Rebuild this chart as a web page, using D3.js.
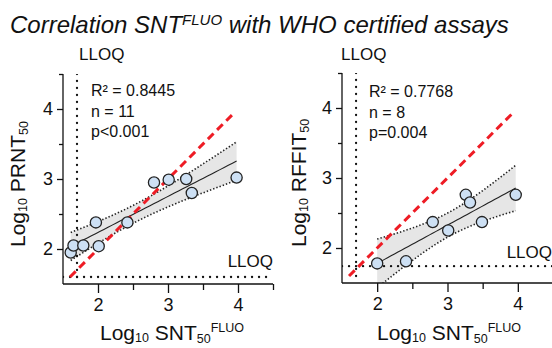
<!DOCTYPE html>
<html>
<head>
<meta charset="utf-8">
<script src="https://cdn.jsdelivr.net/npm/d3@7"></script>
<style>
  body { margin: 0; background: #fff; }
  svg { display: block; font-family: "Liberation Sans", Arial, sans-serif; }
</style>
</head>
<body>
<svg id="chart" width="552" height="348"></svg>
<script>
// data (log10 titres)
var prntX = [1.61, 1.65, 1.79, 2.01, 1.97, 2.42, 2.80, 3.01, 3.26, 3.34, 3.98];
var prntY = [1.95, 2.05, 2.05, 2.04, 2.38, 2.38, 2.95, 2.99, 3.00, 2.80, 3.02];
var rffitX = [2.00, 2.41, 2.79, 3.01, 3.26, 3.32, 3.49, 3.97];
var rffitY = [1.78, 1.81, 2.37, 2.25, 2.76, 2.65, 2.37, 2.76];
var statsPrnt = ["R² = 0.8445", "n = 11", "p<0.001"];
var statsRffit = ["R² = 0.7768", "n = 8", "p=0.004"];
var majorTicks = [2, 3, 4];
var minorTicks = [2.5, 3.5, 4.5];
var domain = [1.5, 4.5];
var identity = [1.6, 3.95];

var svg = d3.select("#chart");

// title
var title = svg.append("text")
    .attr("x", 10).attr("y", 33)
    .style("font-size", "24px").style("font-style", "italic").attr("fill", "#111");
title.append("tspan").text("Correlation SNT");
title.append("tspan").attr("dy", -8).style("font-size", "15px").text("FLUO");
title.append("tspan").attr("dy", 8).text(" with WHO certified assays");

function regress(xs, ys, t) {
  var n = xs.length, mx = d3.mean(xs), my = d3.mean(ys);
  var sxx = d3.sum(xs, function(x) { return (x - mx) * (x - mx); });
  var sxy = d3.sum(xs, function(x, i) { return (x - mx) * (ys[i] - my); });
  var b = sxy / sxx, a = my - b * mx;
  var sse = d3.sum(xs, function(x, i) { var r = ys[i] - (a + b * x); return r * r; });
  var s = Math.sqrt(sse / (n - 2));
  var ext = d3.extent(xs);
  return d3.range(0, 41).map(function(i) {
    var x = ext[0] + (ext[1] - ext[0]) * i / 40;
    var fit = a + b * x;
    var h = t * s * Math.sqrt(1 / n + (x - mx) * (x - mx) / sxx);
    return {x: x, fit: fit, lo: fit - h, hi: fit + h};
  });
}

function panel(opt) {
  var x = d3.scaleLinear().domain(domain).range(opt.xr);
  var y = d3.scaleLinear().domain(domain).range(opt.yr);
  var g = svg.append("g");

  g.append("clipPath").attr("id", opt.id + "clip")
    .append("rect").attr("x", opt.xr[0]).attr("y", opt.yr[1])
    .attr("width", opt.xr[1] - opt.xr[0]).attr("height", opt.yr[0] - opt.yr[1]);
  var plot = g.append("g").attr("clip-path", "url(#" + opt.id + "clip)");

  var reg = regress(opt.xs, opt.ys, opt.t);
  plot.append("path").datum(reg)
    .attr("d", d3.area().x(function(d) { return x(d.x); })
      .y0(function(d) { return y(d.lo); }).y1(function(d) { return y(d.hi); }))
    .attr("fill", "#e6e6e6");
  ["lo", "hi"].forEach(function(k) {
    plot.append("path").datum(reg)
      .attr("d", d3.line().x(function(d) { return x(d.x); }).y(function(d) { return y(d[k]); }))
      .attr("fill", "none").attr("stroke", "#222").attr("stroke-width", 1.6)
      .attr("stroke-dasharray", "1.4 2");
  });
  plot.append("path").datum(reg)
    .attr("d", d3.line().x(function(d) { return x(d.x); }).y(function(d) { return y(d.fit); }))
    .attr("fill", "none").attr("stroke", "#222").attr("stroke-width", 1.1);

  // LLOQ lines
  plot.append("line")
    .attr("x1", x(opt.lloqX)).attr("x2", x(opt.lloqX))
    .attr("y1", y(domain[1])).attr("y2", y(domain[0]))
    .attr("stroke", "#111").attr("stroke-width", 2.3)
    .attr("stroke-dasharray", "0.1 6.9").attr("stroke-linecap", "round");
  plot.append("line")
    .attr("x1", x(domain[0])).attr("x2", x(domain[1]))
    .attr("y1", y(opt.lloqY)).attr("y2", y(opt.lloqY))
    .attr("stroke", "#111").attr("stroke-width", 2.3)
    .attr("stroke-dasharray", "0.1 6.9").attr("stroke-linecap", "round");

  // line of identity
  plot.append("line")
    .attr("x1", x(identity[0])).attr("y1", y(identity[0]))
    .attr("x2", x(identity[1])).attr("y2", y(identity[1]))
    .attr("stroke", "#ee1c25").attr("stroke-width", 3)
    .attr("stroke-dasharray", "8 5");

  plot.selectAll("circle").data(opt.xs).enter().append("circle")
    .attr("cx", function(d) { return x(d); })
    .attr("cy", function(d, i) { return y(opt.ys[i]); })
    .attr("r", 5.6)
    .attr("fill", "#cde0f4").attr("stroke", "#222").attr("stroke-width", 1.3);

  // axes
  var xg = g.append("g").attr("transform", "translate(0," + opt.yr[0] + ")");
  xg.call(d3.axisBottom(x).tickValues(majorTicks).tickSize(9).tickPadding(5).tickFormat(d3.format("d")));
  var xm = g.append("g").attr("transform", "translate(0," + opt.yr[0] + ")");
  xm.call(d3.axisBottom(x).tickValues(minorTicks).tickSize(6).tickFormat(""));
  var yg = g.append("g").attr("transform", "translate(" + opt.xr[0] + ",0)");
  yg.call(d3.axisLeft(y).tickValues(majorTicks).tickSize(6).tickPadding(4).tickFormat(d3.format("d")));
  var ym = g.append("g").attr("transform", "translate(" + opt.xr[0] + ",0)");
  ym.call(d3.axisLeft(y).tickValues(minorTicks).tickSize(4).tickFormat(""));
  g.selectAll(".domain").attr("stroke", "#111").attr("stroke-width", 1.3);
  g.selectAll(".tick line").attr("stroke", "#111").attr("stroke-width", 1.3);
  g.selectAll(".tick text").style("font-size", "18px").style("font-family", "Liberation Sans, Arial, sans-serif").attr("fill", "#111");
  xm.select(".domain").remove();
  ym.select(".domain").remove();
  xg.select(".domain").attr("d", "M" + opt.xr[0] + ",0H" + opt.xr[1]);
  yg.select(".domain").attr("d", "M0," + opt.yr[0] + "V" + opt.yr[1]);

  // stats text
  g.selectAll("text.stat").data(opt.stats).enter().append("text")
    .attr("class", "stat")
    .attr("x", opt.statX).attr("y", function(d, i) { return opt.statY + i * 20.5; })
    .style("font-size", "16px").attr("fill", "#111")
    .text(function(d) { return d; });

  // LLOQ labels
  g.append("text").attr("x", opt.topLloq[0]).attr("y", opt.topLloq[1])
    .style("font-size", "17px").attr("fill", "#111").text("LLOQ");
  g.append("text").attr("x", opt.sideLloq[0]).attr("y", opt.sideLloq[1])
    .attr("text-anchor", "end")
    .style("font-size", "17px").attr("fill", "#111").text("LLOQ");

  // axis titles
  var xl = g.append("text").attr("x", opt.xlX).attr("y", 340)
    .style("font-size", "21px").attr("fill", "#111");
  xl.append("tspan").text("Log");
  xl.append("tspan").attr("dy", 2).style("font-size", "12.5px").text("10");
  xl.append("tspan").attr("dy", -2).text(" SNT");
  xl.append("tspan").attr("dy", 3).style("font-size", "12.5px").text("50");
  xl.append("tspan").attr("dy", -11).style("font-size", "12.5px").text("FLUO");

  var yl = g.append("text")
    .attr("transform", "translate(" + opt.ylX + ",247) rotate(-90)")
    .style("font-size", "21px").attr("fill", "#111");
  yl.append("tspan").text("Log");
  yl.append("tspan").attr("dy", 2).style("font-size", "12.5px").text("10");
  yl.append("tspan").attr("dy", -2).text(" " + opt.yName);
  yl.append("tspan").attr("dy", 3).style("font-size", "12.5px").text("50");
}

panel({id: "p1", xr: [63, 273], yr: [284, 74], xs: prntX, ys: prntY, t: 2.262,
  lloqX: 1.7, lloqY: 1.6, stats: statsPrnt, statX: 91, statY: 96,
  topLloq: [79, 60], sideLloq: [273, 267], ylX: 25, xlX: 100, yName: "PRNT"});
panel({id: "p2", xr: [342, 553], yr: [283, 73], xs: rffitX, ys: rffitY, t: 2.447,
  lloqX: 1.7, lloqY: 1.74, stats: statsRffit, statX: 369, statY: 97,
  topLloq: [341, 60], sideLloq: [552, 258], ylX: 306, xlX: 377, yName: "RFFIT"});
</script>
</body>
</html>
